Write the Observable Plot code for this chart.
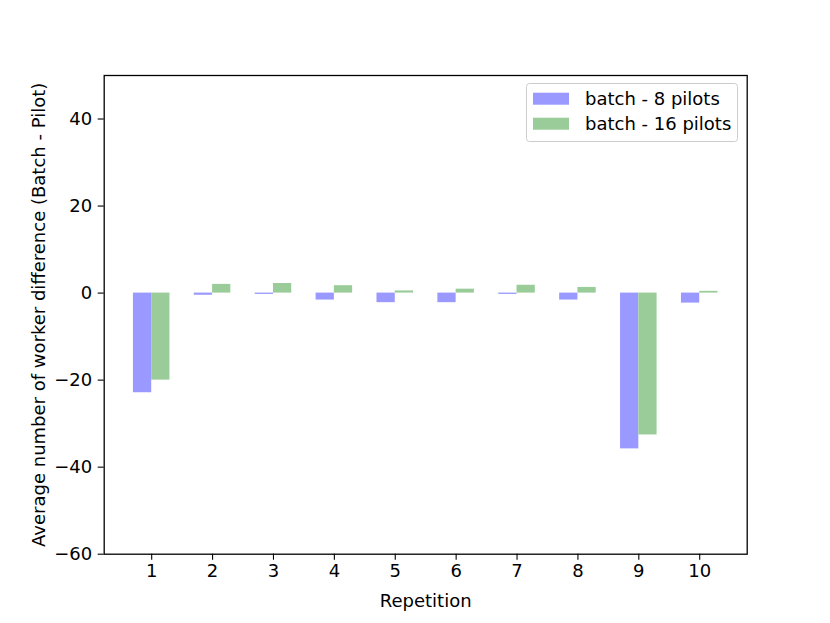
<!DOCTYPE html>
<html><head>
<meta charset="utf-8">
<script src="https://cdn.jsdelivr.net/npm/d3@7"></script>
<script src="https://cdn.jsdelivr.net/npm/@observablehq/plot@0.6"></script>
<style>
body{margin:0;background:#fff;}
svg{display:block;}
</style>
</head><body><div id="chart"></div>
<script>
const repetitions = [1, 2, 3, 4, 5, 6, 7, 8, 9, 10];
const batch8 = [-22.9, -0.5, -0.3, -1.6, -2.2, -2.2, -0.3, -1.6, -35.8, -2.3];
const batch16 = [-20.0, 2.0, 2.2, 1.7, 0.5, 0.9, 1.8, 1.3, -32.6, 0.4];
const yTicks = [-60, -40, -20, 0, 20, 40];
const seriesNames = ["batch - 8 pilots", "batch - 16 pilots"];
const seriesColors = ["#9999ff", "#99cc99"];
const xLabel = "Repetition";
const yLabel = "Average number of worker difference (Batch - Pilot)";
const barWidth = 0.3;

const rows8 = repetitions.map((r, i) => ({rep: r, value: batch8[i]}));
const rows16 = repetitions.map((r, i) => ({rep: r, value: batch16[i]}));
const fmt = d => d < 0 ? "\u2212" + (-d) : String(d);
const FS = 18;

const chart = Plot.plot({
  width: 830,
  height: 623,
  marginLeft: 103.7,
  marginRight: 83.3,
  marginTop: 75,
  marginBottom: 69.3,
  style: {fontFamily: "DejaVu Sans", fontSize: FS + "px", color: "black", background: "white"},
  x: {type: "linear", domain: [0.22, 10.78]},
  y: {domain: [-60, 50]},
  marks: [
    Plot.rect(rows8, {x1: d => d.rep - barWidth, x2: d => d.rep, y1: 0, y2: "value", fill: seriesColors[0]}),
    Plot.rect(rows16, {x1: d => d.rep, x2: d => d.rep + barWidth, y1: 0, y2: "value", fill: seriesColors[1]}),
    Plot.frame({stroke: "black", strokeWidth: 1.3}),
    Plot.axisX({ticks: repetitions, tickFormat: fmt, tickSize: 6, tickPadding: 4, fontSize: FS, label: null, stroke: "black", strokeWidth: 1.1}),
    Plot.axisY({ticks: yTicks, tickFormat: fmt, tickSize: 6, tickPadding: 6, fontSize: FS, label: null, stroke: "black", strokeWidth: 1.1}),
    Plot.text([xLabel], {text: d => d, frameAnchor: "bottom", dy: 53, lineAnchor: "bottom", fontSize: FS, fill: "black"}),
    Plot.text([yLabel], {text: d => d, frameAnchor: "left", dx: -59.5, rotate: -90, lineAnchor: "bottom", textAnchor: "middle", fontSize: FS, fill: "black"})
  ]
});

document.getElementById("chart").appendChild(chart);

// legend
const svg = d3.select(chart);
const lg = svg.append("g").attr("font-family", "DejaVu Sans").attr("font-size", FS + "px").attr("text-anchor", "start");
lg.append("rect").attr("x", 526.5).attr("y", 83.5).attr("width", 211).attr("height", 58)
  .attr("rx", 3).attr("fill", "white").attr("fill-opacity", 0.8).attr("stroke", "#cccccc").attr("stroke-width", 1);
seriesNames.forEach((name, i) => {
  const y = 92.7 + i * 25;
  lg.append("rect").attr("x", 533).attr("y", y).attr("width", 36).attr("height", 12).attr("fill", seriesColors[i]);
  lg.append("text").attr("x", 585).attr("y", y + 12.5).attr("text-anchor", "start").attr("fill", "black").text(name);
});
</script>
</body></html>
